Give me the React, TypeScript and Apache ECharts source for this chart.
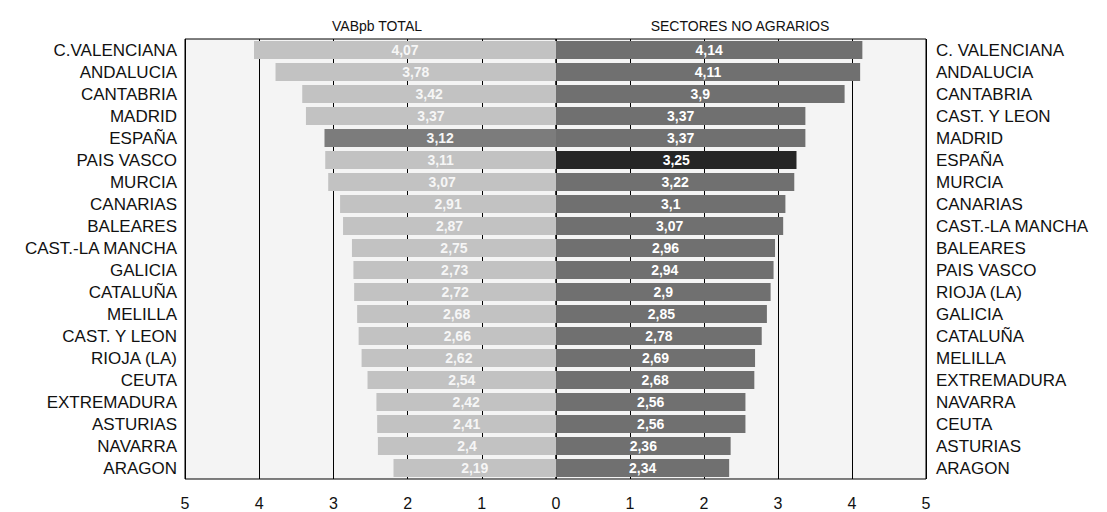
import React, { useEffect, useRef } from "react";
import * as echarts from "echarts";

const leftCategories = [
  "C.VALENCIANA", "ANDALUCIA", "CANTABRIA", "MADRID", "ESPAÑA", "PAIS VASCO", "MURCIA",
  "CANARIAS", "BALEARES", "CAST.-LA MANCHA", "GALICIA", "CATALUÑA", "MELILLA",
  "CAST. Y LEON", "RIOJA (LA)", "CEUTA", "EXTREMADURA", "ASTURIAS", "NAVARRA", "ARAGON",
];
const leftValues = [
  4.07, 3.78, 3.42, 3.37, 3.12, 3.11, 3.07, 2.91, 2.87, 2.75, 2.73, 2.72, 2.68, 2.66,
  2.62, 2.54, 2.42, 2.41, 2.4, 2.19,
];

const rightCategories = [
  "C. VALENCIANA", "ANDALUCIA", "CANTABRIA", "CAST. Y LEON", "MADRID", "ESPAÑA", "MURCIA",
  "CANARIAS", "CAST.-LA MANCHA", "BALEARES", "PAIS VASCO", "RIOJA (LA)", "GALICIA",
  "CATALUÑA", "MELILLA", "EXTREMADURA", "NAVARRA", "CEUTA", "ASTURIAS", "ARAGON",
];
const rightValues = [
  4.14, 4.11, 3.9, 3.37, 3.37, 3.25, 3.22, 3.1, 3.07, 2.96, 2.94, 2.9, 2.85, 2.78,
  2.69, 2.68, 2.56, 2.56, 2.36, 2.34,
];

const leftTitle = "VABpb TOTAL";
const rightTitle = "SECTORES NO AGRARIOS";
const highlight = "ESPAÑA";

const FONT = "'Liberation Sans', Arial, sans-serif";

const fmt = (v: number) => String(v).replace(".", ",");

export default function App() {
  const ref = useRef<HTMLDivElement>(null);
  useEffect(() => {
    if (!ref.current) return;
    const chart = echarts.init(ref.current, null, { renderer: "svg" });
    const leftData = leftValues.map((v, i) => ({
      value: v,
      itemStyle: { color: leftCategories[i] === highlight ? "#7c7c7c" : "#c2c2c2" },
    }));
    const rightData = rightValues.map((v, i) => ({
      value: v,
      itemStyle: { color: rightCategories[i] === highlight ? "#262626" : "#707070" },
    }));
    const gridCommon = {
      show: true,
      borderColor: "#000",
      borderWidth: 1,
      backgroundColor: "#f4f4f4",
    };
    const xCommon = {
      type: "value" as const,
      min: 0,
      max: 5,
      interval: 1,
      axisLine: { show: false },
      axisTick: { show: false },
      splitLine: { show: true, lineStyle: { color: "#000", width: 1 } },
      axisLabel: { fontSize: 16, color: "#111", margin: 16, fontFamily: FONT },
    };
    const yCommon = {
      type: "category" as const,
      inverse: true,
      axisLine: { show: false },
      axisTick: { show: false },
      splitLine: { show: false },
    };
    chart.setOption({
      animation: false,
      backgroundColor: "#fff",
      title: [
        {
          text: leftTitle,
          left: 372,
          top: 14,
          textAlign: "center",
          textStyle: { fontSize: 14, fontWeight: "normal", color: "#111", fontFamily: FONT },
        },
        {
          text: rightTitle,
          left: 735,
          top: 14,
          textAlign: "center",
          textStyle: { fontSize: 14, fontWeight: "normal", color: "#111", fontFamily: FONT },
        },
      ],
      grid: [
        { ...gridCommon, left: 185, top: 39, width: 371, height: 440 },
        { ...gridCommon, left: 556, top: 39, width: 370, height: 440 },
      ],
      xAxis: [
        {
          ...xCommon,
          gridIndex: 0,
          inverse: true,
          axisLabel: { ...xCommon.axisLabel, showMinLabel: false },
        },
        { ...xCommon, gridIndex: 1 },
      ],
      yAxis: [
        {
          ...yCommon,
          gridIndex: 0,
          position: "left",
          data: leftCategories,
          axisLabel: { interval: 0, fontSize: 17, color: "#111", margin: 8, fontFamily: FONT },
        },
        {
          ...yCommon,
          gridIndex: 1,
          position: "right",
          data: rightCategories,
          axisLabel: { interval: 0, fontSize: 17, color: "#111", margin: 10, fontFamily: FONT },
        },
      ],
      series: [
        {
          type: "bar",
          xAxisIndex: 0,
          yAxisIndex: 0,
          data: leftData,
          barCategoryGap: "18%",
          label: {
            show: true,
            position: "inside",
            color: "#f6f6f6",
            fontSize: 14,
            fontWeight: "bold",
            fontFamily: FONT,
            formatter: (p: any) => fmt(p.value),
          },
        },
        {
          type: "bar",
          xAxisIndex: 1,
          yAxisIndex: 1,
          data: rightData,
          barCategoryGap: "18%",
          label: {
            show: true,
            position: "inside",
            color: "#fff",
            fontSize: 14,
            fontWeight: "bold",
            fontFamily: FONT,
            formatter: (p: any) => fmt(p.value),
          },
        },
      ],
    });
    return () => chart.dispose();
  }, []);
  return (
    <div
      ref={ref}
      style={{ position: "absolute", left: 0, top: 0, width: 1107, height: 512 }}
    />
  );
}
